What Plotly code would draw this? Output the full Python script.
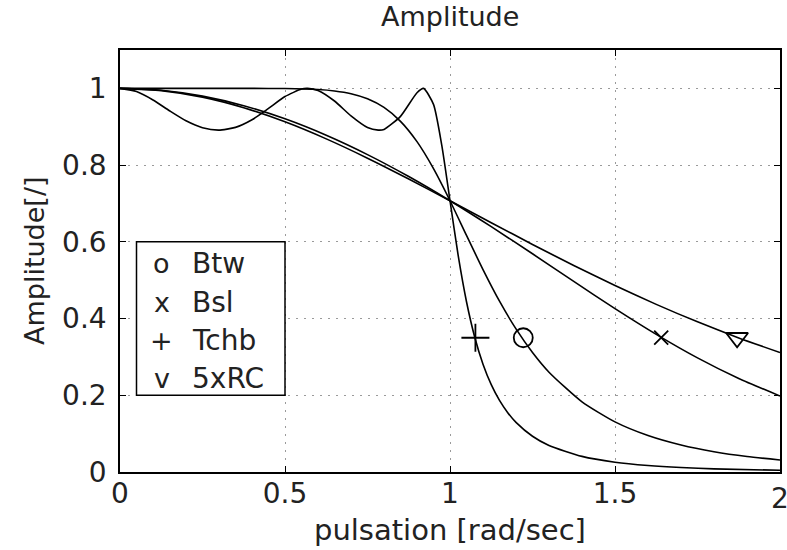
import plotly.graph_objects as go

# ---- data ----
btw_x = [0, 0.25, 0.4, 0.5, 0.6, 0.65, 0.7, 0.75, 0.8, 0.85, 0.9, 0.95, 1.0, 1.05, 1.1,
         1.15, 1.2, 1.25, 1.3, 1.4, 1.5, 1.6, 1.7, 1.8, 1.9, 2.0]
btw_y = [1.0, 1.0, 0.99995, 0.99951, 0.99699, 0.99334, 0.98617, 0.97296, 0.95029, 0.91408,
         0.86108, 0.79082, 0.70711, 0.61677, 0.52756, 0.44515, 0.37291, 0.31135, 0.26005,
         0.18279, 0.13056, 0.09495, 0.07026, 0.05285, 0.04035, 0.03123]

bsl_x = [0, 0.125, 0.25, 0.375, 0.5, 0.625, 0.75, 0.875, 1.0, 1.125, 1.25, 1.375, 1.5,
         1.625, 1.75, 1.875, 2.0]
bsl_y = [1.0, 0.99489, 0.9797, 0.9547, 0.9205, 0.8777, 0.8273, 0.7701, 0.7071, 0.6395,
         0.5688, 0.4968, 0.4259, 0.3588, 0.2975, 0.2438, 0.1981]

rc_x = [0, 0.125, 0.25, 0.375, 0.5, 0.625, 0.75, 0.875, 1.0, 1.125, 1.25, 1.375, 1.5,
        1.625, 1.75, 1.875, 2.0]
rc_y = [1.0, 0.99422, 0.97714, 0.94958, 0.91279, 0.86835, 0.81806, 0.76375, 0.70711,
        0.64985, 0.59318, 0.53827, 0.48601, 0.43689, 0.39135, 0.34947, 0.31136]

tch_x = [0, 0.05, 0.1, 0.15, 0.2, 0.25, 0.2989, 0.35, 0.4, 0.45, 0.5, 0.55, 0.5685, 0.6,
         0.65, 0.7, 0.75, 0.7825, 0.8, 0.85, 0.9, 0.9198, 0.95, 0.975, 1.0, 1.025, 1.05,
         1.075, 1.1, 1.125, 1.15, 1.175, 1.2, 1.25, 1.3, 1.4, 1.5, 1.6, 1.7, 1.8, 2.0]
tch_y = [1.0, 0.99164, 0.96970, 0.94168, 0.91558, 0.89753, 0.89125, 0.89836, 0.91819,
         0.94777, 0.97868, 0.99824, 1.0, 0.99470, 0.96706, 0.92833, 0.89807, 0.89125,
         0.89302, 0.92711, 0.98864, 1.0, 0.95818, 0.85181, 0.70711, 0.56314, 0.44386,
         0.35134, 0.28098, 0.22756, 0.18654, 0.15462, 0.12949, 0.09325, 0.06915, 0.04069,
         0.02561, 0.01694, 0.011653, 0.00827, 0.00448]

# markers placed on each curve
mark_names = ["Btw", "Bsl", "Tchb", "5xRC"]
mark_chars = ["o", "x", "+", "v"]
mark_x = [1.222, 1.64, 1.077, 1.87]
mark_y = [0.35, 0.35, 0.35, 0.35]

x_ticks = [0, 0.5, 1, 1.5]
x_ticktext = ["0", "0.5", "1", "1.5"]
x_last_tick = 2
x_last_text = "2"
y_ticks = [0, 0.2, 0.4, 0.6, 0.8, 1.0]
y_ticktext = ["0", "0.2", "0.4", "0.6", "0.8", "1"]

FONT = "DejaVu Sans"
TXT = "#222222"

fig = go.Figure()
for xs, ys in [(btw_x, btw_y), (bsl_x, bsl_y), (tch_x, tch_y), (rc_x, rc_y)]:
    fig.add_trace(go.Scatter(x=xs, y=ys, mode="lines",
                             line=dict(color="black", width=1.6, shape="spline", smoothing=0.6),
                             showlegend=False, hoverinfo="skip"))

symbols = ["circle-open", "x-thin-open", "cross-thin-open", "triangle-down-open"]
sizes = [19, 14, 20, 19]
for i in range(4):
    fig.add_trace(go.Scatter(x=[mark_x[i]], y=[mark_y[i]], mode="markers",
                             marker=dict(symbol=symbols[i], size=sizes[i], color="black",
                                         line=dict(color="black", width=1.8)),
                             showlegend=False, hoverinfo="skip"))

# legend box (MATLAB style, text symbols)
fig.add_shape(type="rect", xref="x", yref="y", x0=0.05, x1=0.5, y0=0.2, y1=0.6,
              line=dict(color="black", width=1.5), fillcolor="white", layer="above")
row_y = [0.544, 0.443, 0.344, 0.245]
for i in range(4):
    fig.add_annotation(x=0.127, y=row_y[i], xref="x", yref="y", text=mark_chars[i],
                       showarrow=False, xanchor="center", yanchor="middle",
                       font=dict(family=FONT, size=27, color=TXT))
    fig.add_annotation(x=0.213, y=row_y[i], xref="x", yref="y", text=mark_names[i],
                       showarrow=False, xanchor="left", yanchor="middle",
                       font=dict(family=FONT, size=28, color=TXT))

# last x tick label, partly cut by the page edge as in the reference
fig.add_annotation(x=x_last_tick, y=0, xref="x", yref="paper", text=x_last_text,
                   showarrow=False, xanchor="center", yanchor="top", yshift=-8,
                   font=dict(family=FONT, size=28, color=TXT))

# titles
fig.add_annotation(x=0.5, y=1, xref="paper", yref="paper", text="Amplitude",
                   showarrow=False, xanchor="center", yanchor="middle", yshift=34,
                   font=dict(family=FONT, size=27, color=TXT))
fig.add_annotation(x=0.5, y=0, xref="paper", yref="paper", text="pulsation [rad/sec]",
                   showarrow=False, xanchor="center", yanchor="top", yshift=-39,
                   font=dict(family=FONT, size=29, color=TXT))
fig.add_annotation(x=0, y=0.5, xref="paper", yref="paper", text="Amplitude[/]",
                   showarrow=False, xanchor="center", yanchor="middle", xshift=-86,
                   textangle=-90, font=dict(family=FONT, size=27, color=TXT))

axis_common = dict(showline=True, linecolor="black", linewidth=1.5, mirror="allticks",
                   ticks="inside", ticklen=6, tickcolor="black", tickwidth=1.2,
                   showgrid=True, gridcolor="#9a9a9a", griddash="2px,6px", gridwidth=1.2,
                   zeroline=False, tickfont=dict(family=FONT, size=28, color=TXT))

fig.update_xaxes(range=[0, 2], tickvals=x_ticks + [x_last_tick], ticktext=x_ticktext + [""],
                 ticklabelstandoff=-4, **axis_common)
fig.update_yaxes(range=[0, 1.1], tickvals=y_ticks, ticktext=y_ticktext,
                 ticklabelstandoff=6, **axis_common)

fig.update_layout(width=787, height=550, margin=dict(l=120, r=5, t=50, b=78),
                  paper_bgcolor="white", plot_bgcolor="white")

fig.write_html("out.html")
